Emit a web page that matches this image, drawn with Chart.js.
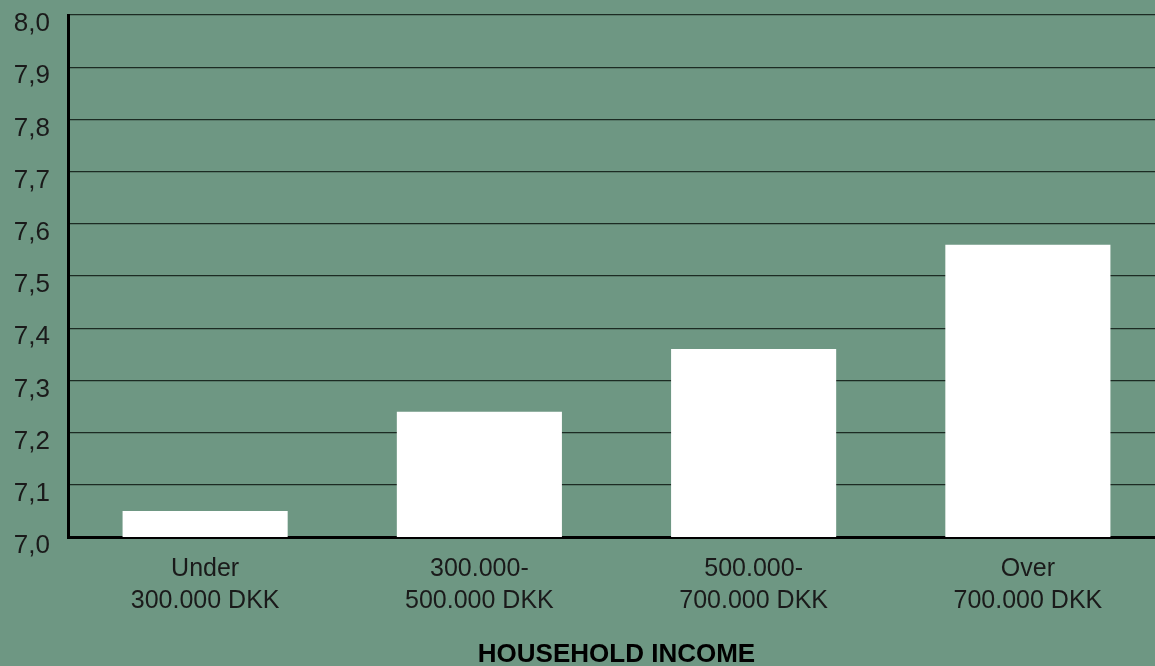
<!DOCTYPE html>
<html>
<head>
<meta charset="utf-8">
<script src="https://cdn.jsdelivr.net/npm/chart.js@4"></script>
<style>
  html, body { margin: 0; padding: 0; background: #6e9783; overflow: hidden; }
  #wrap { width: 1155px; height: 666px; overflow: hidden; }
</style>
</head>
<body>
<!-- canvas is a bit wider than the window: the plot runs past the right edge in the original -->
<div id="wrap"><canvas id="incomeChart" width="1165" height="666"></canvas></div>
<script>
// Household income vs. score
const categories = [
  ['Under', '300.000 DKK'],
  ['300.000-', '500.000 DKK'],
  ['500.000-', '700.000 DKK'],
  ['Over', '700.000 DKK']
];
const scores = [7.05, 7.24, 7.36, 7.56];
const yMin = 7.0;
const yMax = 8.0;
const yStep = 0.1;

const FONT = '"Liberation Sans", Arial, Helvetica, sans-serif';

new Chart(document.getElementById('incomeChart'), {
  type: 'bar',
  data: {
    labels: categories,
    datasets: [{
      data: scores,
      backgroundColor: '#ffffff',
      borderWidth: 0,
      categoryPercentage: 1,
      barPercentage: 0.602
    }]
  },
  options: {
    responsive: false,
    animation: false,
    layout: { padding: 0 },
    plugins: {
      legend: { display: false },
      tooltip: { enabled: false }
    },
    scales: {
      x: {
        grid: { display: false, drawTicks: false },
        border: { display: true, color: '#000', width: 3 },
        ticks: {
          color: '#1a1a1a',
          padding: 16,
          maxRotation: 0,
          font: { family: FONT, size: 25, lineHeight: 1.28 }
        },
        title: {
          display: true,
          text: 'HOUSEHOLD INCOME',
          color: '#000',
          padding: { top: 0, bottom: 0 },
          font: { family: FONT, size: 26, weight: 'bold', lineHeight: 0.85 }
        },
        afterFit(scale) { scale.height = 129; }
      },
      y: {
        min: yMin,
        max: yMax,
        grid: { color: '#1c2b23', lineWidth: 1.3, drawTicks: false },
        border: { display: true, color: '#000', width: 3 },
        ticks: {
          stepSize: yStep,
          color: '#1a1a1a',
          padding: 18,
          labelOffset: 9,
          font: { family: FONT, size: 26 },
          callback: v => v.toFixed(1).replace('.', ',')
        },
        afterFit(scale) {
          scale.width = 68;
          scale.paddingTop = 15;
        }
      }
    }
  }
});
</script>
</body>
</html>
